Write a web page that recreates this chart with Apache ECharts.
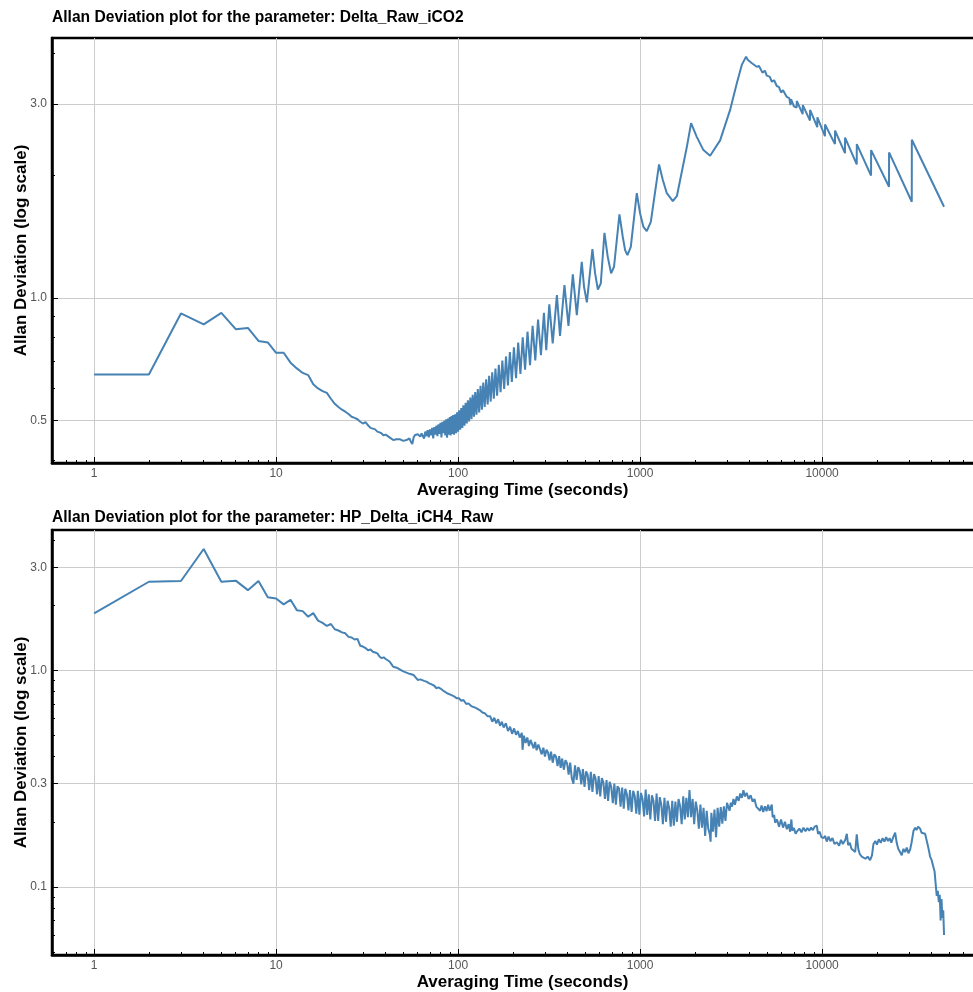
<!DOCTYPE html>
<html>
<head>
<meta charset="utf-8">
<title>Allan Deviation</title>
<script src="https://cdn.jsdelivr.net/npm/echarts@6/dist/echarts.min.js"></script>
<style>
  html, body { margin: 0; padding: 0; background: #fff; }
  #chart { width: 973px; height: 992px; }
</style>
</head>
<body>
<div id="chart"></div>
<script>
// Delta_Raw_iCO2
var co2Tau = [1, 2, 3, 4, 5, 6, 7, 8, 9, 10, 11, 12, 13, 14, 15, 16, 17, 18, 19, 20,
  21, 22, 23, 24, 25, 26, 27, 28, 29, 30, 31, 32, 33, 34, 35, 36, 37, 38, 39, 40,
  41, 42, 43, 44, 45, 46, 47, 48, 49, 50, 51, 52, 53, 54, 55, 56, 57, 58, 59, 60,
  62, 63, 64, 65, 66, 67, 68, 69, 70, 71, 72, 73, 74, 75, 76, 77, 78, 79, 80,
  81, 82, 83, 84, 85, 86, 87, 88, 89, 90, 91, 92, 93, 94, 95,
  96.3, 97.5, 98.7, 100, 101.3, 102.7, 104.1, 105.5, 106.9, 108.5, 110, 111.6, 113.2, 114.9,
  116.7, 118.5, 120.3, 122.2, 124.2, 126.2, 128.3, 130.5, 132.8, 135.1, 137.5, 140, 142.6,
  145.3, 148.1, 151, 154, 157.1, 160.4, 163.8, 167.4, 171.1, 175, 179.1, 183.3, 187.8,
  192.5, 197.4, 202.6, 208.1, 213.9, 220, 226.5, 233.3, 240.6, 248.4, 256.7, 265.5,
  275, 285.2, 296.2, 305, 317, 331, 349, 363, 384, 404, 427, 449, 478, 492, 510, 547, 566, 586, 608,
  637, 664, 693, 719, 770, 803, 827, 852, 889, 959, 1000, 1043, 1088, 1145, 1271, 1333, 1402, 1513,
  1592, 1660, 1806, 1906, 2048, 2228, 2425, 2752, 3123, 3399, 3620, 3822, 3900, 3950, 4100, 4200, 4375, 4500,
  4700, 4850, 4965, 5150, 5300, 5450, 5636, 5800, 5950, 6100, 6398, 6600, 6700, 6750,
  7000, 7250, 7261, 7820, 7834, 8580, 8590, 9410, 9420, 10370, 10380, 11770, 11780,
  13360, 13370, 15500, 15510, 18580, 18590, 23320, 23330, 31100, 31120, 46770];
var co2Dev = [0.649, 0.649, 0.917, 0.862, 0.920, 0.839, 0.845, 0.785, 0.778, 0.734,
  0.734, 0.694, 0.672, 0.655, 0.647, 0.614, 0.600, 0.591, 0.585, 0.566,
  0.550, 0.540, 0.532, 0.526, 0.519, 0.511, 0.508, 0.504, 0.497, 0.492,
  0.496, 0.487, 0.480, 0.478, 0.476, 0.470, 0.468, 0.465, 0.460, 0.462,
  0.458, 0.455, 0.452, 0.448, 0.452, 0.450, 0.447, 0.450, 0.448, 0.446,
  0.449, 0.448, 0.446, 0.452, 0.444, 0.438, 0.455, 0.461, 0.458, 0.463,
  0.457, 0.465, 0.463, 0.452, 0.470, 0.458, 0.474, 0.455, 0.476, 0.460,
  0.480, 0.452, 0.482, 0.462, 0.486, 0.458, 0.490, 0.464, 0.494,
  0.455, 0.497, 0.466, 0.500, 0.460, 0.504, 0.454, 0.506, 0.462, 0.510,
  0.460, 0.513, 0.464, 0.516, 0.462,
  0.518, 0.466, 0.524, 0.470, 0.530, 0.475, 0.537, 0.480, 0.545, 0.486, 0.553, 0.492, 0.561, 0.498,
  0.570, 0.504, 0.579, 0.511, 0.588, 0.517, 0.598, 0.524, 0.609, 0.532, 0.620, 0.540, 0.632,
  0.548, 0.644, 0.557, 0.657, 0.566, 0.671, 0.576, 0.686, 0.587, 0.702, 0.598, 0.719, 0.610,
  0.737, 0.622, 0.757, 0.636, 0.778, 0.651, 0.801, 0.667, 0.827, 0.684, 0.855, 0.703,
  0.886, 0.724, 0.920, 0.745, 0.965, 0.774, 1.017, 0.808, 1.076, 0.855, 1.144, 0.908, 1.228, 1.066, 0.976, 1.32, 1.15, 1.05, 1.086,
  1.447, 1.263, 1.15, 1.194, 1.606, 1.415, 1.312, 1.276, 1.337, 1.81, 1.615, 1.496, 1.46, 1.54, 2.13, 1.95, 1.81, 1.73,
  1.78, 1.95, 2.35, 2.69, 2.49, 2.31, 2.237, 2.44, 2.90, 3.37, 3.74, 3.92, 3.85, 3.88, 3.78, 3.80, 3.70, 3.72,
  3.58, 3.62, 3.52, 3.50, 3.40, 3.43, 3.32, 3.30, 3.20, 3.24, 3.12, 3.10, 2.98, 3.08,
  2.96, 2.94, 3.05, 2.83, 2.98, 2.73, 2.90, 2.63, 2.78, 2.50, 2.67, 2.39, 2.58,
  2.27, 2.48, 2.13, 2.39, 2.00, 2.31, 1.877, 2.28, 1.725, 2.45, 1.677];

// HP_Delta_iCH4_Raw
var ch4Tau = [1, 2, 3, 4, 5, 6, 7, 8, 9, 10, 11, 12, 13, 14, 15, 16, 17, 18, 19, 20,
  21, 22, 23, 24, 25, 26, 27, 28, 29, 30, 31, 32, 33, 34, 35, 36, 37, 38, 39, 40,
  41, 42, 43, 44, 45, 46, 47, 48, 50, 52, 54, 55, 57, 58, 60, 62, 63, 65, 67, 69,
  70, 72, 74, 76, 78, 80, 82, 84, 87, 89, 92, 95, 98, 101, 104, 107, 111, 114, 118,
  121, 125, 128, 132, 136, 140, 145,
  150, 154, 158, 162, 166, 170, 174, 178, 183, 188, 193, 198, 203, 208, 213, 218, 224, 226,
  230, 235, 240, 245, 250, 255, 260, 265, 270, 276, 282, 288, 294, 300, 306, 312, 318, 324,
  331, 338, 345, 352, 359, 366, 373, 381, 389, 397,
  405, 413, 421, 430, 439, 448, 457, 466, 475, 485,
  495, 505, 515, 525, 536, 547, 558, 569, 580, 592,
  604, 616, 628, 641, 654, 667, 680, 694, 708, 722,
  736, 751, 766, 781, 797, 813, 829, 846, 863, 880,
  898, 916, 934, 953, 972, 991, 1011, 1031, 1052, 1073,
  1094, 1116, 1138, 1161, 1184, 1208, 1232, 1257, 1282, 1308,
  1334, 1361, 1388, 1416, 1444, 1473, 1502, 1532, 1563, 1594,
  1626, 1659, 1692, 1726, 1760, 1795, 1831, 1868, 1905, 1943,
  1982, 2022, 2062, 2103, 2145, 2188, 2232, 2277, 2322, 2368,
  2415, 2440, 2463, 2512, 2563, 2614, 2666, 2720, 2774, 2830,
  2886, 2944, 3003,
  3100, 3150, 3200, 3258, 3320, 3400, 3480, 3550, 3620, 3698, 3760, 3850, 3950, 4050,
  4150, 4250, 4350, 4450, 4563, 4650, 4750, 4850, 4950, 5050, 5150, 5290, 5350, 5450,
  5520, 5650, 5800, 5950, 6100, 6250, 6400, 6550, 6670, 6780, 6850, 7000, 7150, 7261,
  7500, 7700, 7900, 8100, 8300, 8500, 8700, 8900, 9100, 9350, 9500, 9700, 9900, 10170,
  10400, 10600, 10850, 11100, 11400, 11700, 12050, 12400, 12700, 13000, 13400, 13670,
  13900, 14200, 14500, 14870, 15200, 15500, 15800, 16100, 16520, 16900, 17300, 17800,
  18350, 18800, 19150, 19600, 20000, 20500, 21000, 21500, 22000, 22500, 23000, 23500,
  24000, 24600, 25200, 25700, 26200, 26800, 27400, 28000, 28600, 29200, 29800, 30460,
  31000, 31800, 32470, 33000, 33700, 34540, 35200, 35800, 36800, 37800, 38600, 39200,
  40000, 40850, 41500, 42000, 42650, 43200, 43800, 44300, 44800, 45300, 45800, 46300, 46770];
var ch4Dev = [1.837, 2.57, 2.59, 3.64, 2.57, 2.60, 2.35, 2.59, 2.18, 2.15, 2.02, 2.12, 1.90, 1.88, 1.77, 1.84, 1.70, 1.66, 1.606, 1.64,
  1.55, 1.53, 1.50, 1.485, 1.43, 1.42, 1.39, 1.40, 1.30, 1.29, 1.27, 1.24, 1.25, 1.22, 1.21, 1.20, 1.16, 1.14, 1.15, 1.13,
  1.12, 1.10, 1.07, 1.04, 1.06, 1.03, 1.04, 1.01, 0.99, 0.977, 0.965, 0.975, 0.953, 0.94, 0.904, 0.91, 0.92, 0.895, 0.888, 0.875,
  0.88, 0.86, 0.85, 0.828, 0.835, 0.825, 0.81, 0.80, 0.785, 0.79, 0.77, 0.76, 0.745, 0.745, 0.725, 0.73, 0.70, 0.705, 0.685,
  0.68, 0.672, 0.66, 0.655, 0.64, 0.635, 0.615,
  0.615, 0.58, 0.605, 0.57, 0.595, 0.555, 0.58, 0.545, 0.57, 0.525, 0.55, 0.51, 0.54, 0.505, 0.525, 0.49, 0.515, 0.43,
  0.50, 0.462, 0.49, 0.448, 0.478, 0.47, 0.437, 0.468, 0.428, 0.455, 0.447, 0.41, 0.44, 0.40, 0.43, 0.418, 0.385, 0.422,
  0.375, 0.41, 0.40, 0.362, 0.402, 0.355, 0.392, 0.348, 0.385, 0.372,
  0.33, 0.375, 0.32, 0.30, 0.365, 0.312, 0.358, 0.345, 0.298, 0.35,
  0.29, 0.342, 0.33, 0.28, 0.34, 0.275, 0.332, 0.318, 0.268, 0.325,
  0.262, 0.318, 0.305, 0.255, 0.312, 0.25, 0.306, 0.29, 0.244, 0.30,
  0.24, 0.292, 0.285, 0.235, 0.288, 0.23, 0.284, 0.268, 0.226, 0.28,
  0.222, 0.278, 0.264, 0.218, 0.278, 0.216, 0.272, 0.255, 0.212, 0.282,
  0.215, 0.268, 0.205, 0.265, 0.25, 0.202, 0.27, 0.202, 0.26, 0.24,
  0.195, 0.258, 0.2, 0.25, 0.232, 0.19, 0.25, 0.192, 0.248, 0.2,
  0.255, 0.236, 0.195, 0.262, 0.205, 0.258, 0.21, 0.28, 0.21, 0.255,
  0.195, 0.248, 0.226, 0.186, 0.24, 0.188, 0.232, 0.172, 0.225, 0.186,
  0.175, 0.162, 0.22, 0.18, 0.228, 0.17, 0.232, 0.19, 0.234, 0.196,
  0.236, 0.202, 0.245,
  0.225, 0.245, 0.235, 0.255, 0.24, 0.262, 0.25, 0.27, 0.258, 0.28, 0.262, 0.272, 0.255, 0.265,
  0.248, 0.255, 0.235, 0.24, 0.225, 0.238, 0.222, 0.236, 0.224, 0.24, 0.225, 0.24, 0.21, 0.215,
  0.198, 0.205, 0.19, 0.205, 0.188, 0.20, 0.185, 0.195, 0.18, 0.205, 0.182, 0.187, 0.176, 0.18,
  0.186, 0.179, 0.188, 0.181, 0.187, 0.182, 0.188, 0.183, 0.19, 0.192, 0.176, 0.18, 0.17, 0.168,
  0.172, 0.162, 0.171, 0.163, 0.168, 0.158, 0.161, 0.155, 0.165, 0.158, 0.165, 0.176,
  0.156, 0.16, 0.15, 0.152, 0.145, 0.175, 0.15, 0.142, 0.138, 0.14, 0.135, 0.138,
  0.133, 0.14, 0.158, 0.163, 0.157, 0.166, 0.16, 0.168, 0.162, 0.17, 0.163, 0.168,
  0.16, 0.17, 0.178, 0.16, 0.15, 0.145, 0.14, 0.15, 0.145, 0.152, 0.143, 0.149,
  0.16, 0.182, 0.188, 0.183, 0.19, 0.186, 0.178, 0.18, 0.176, 0.16, 0.148, 0.138,
  0.133, 0.124, 0.118, 0.105, 0.091, 0.096, 0.085, 0.092, 0.07, 0.088, 0.072, 0.078, 0.060];

var xTicks = [1, 10, 100, 1000, 10000];
var xMinorTicks = [0.6, 0.7, 0.8, 0.9, 2, 3, 4, 5, 6, 7, 8, 9, 20, 30, 40, 50, 60, 70, 80, 90,
  200, 300, 400, 500, 600, 700, 800, 900, 2000, 3000, 4000, 5000, 6000, 7000, 8000, 9000,
  20000, 30000, 40000, 50000, 60000, 70000, 80000];
var co2YTicks = [0.5, 1.0, 3.0];
var co2YMinor = [0.4, 0.6, 0.7, 0.8, 0.9, 2, 4];
var ch4YTicks = [0.1, 0.3, 1.0, 3.0];
var ch4YMinor = [0.05, 0.06, 0.07, 0.08, 0.09, 0.2, 0.4, 0.5, 0.6, 0.7, 0.8, 0.9, 2, 4];

var titles = ['Allan Deviation plot for the parameter: Delta_Raw_iCO2',
  'Allan Deviation plot for the parameter: HP_Delta_iCH4_Raw'];

var FONT = '"Liberation Sans", Arial, sans-serif';
var LINE = '#4682b4';

function pairs(xs, ys) {
  return xs.map(function (x, i) { return [x, ys[i]]; });
}

function xAxisMain(gridIndex) {
  return {
    type: 'log', gridIndex: gridIndex, min: 0.587, max: 86900,
    name: 'Averaging Time (seconds)', nameLocation: 'middle', nameGap: 19, nameMoveOverlap: false,
    nameTextStyle: { fontFamily: FONT, fontSize: 17, fontWeight: 'bold', color: '#000' },
    axisLine: { show: true, lineStyle: { color: '#000', width: 2.5 } },
    axisTick: { inside: true, length: 6, customValues: xTicks, lineStyle: { color: '#000', width: 1 } },
    axisLabel: {
      customValues: xTicks, margin: 5, fontFamily: FONT, fontSize: 12, color: '#555',
      formatter: function (v) { return String(Math.round(v)); }
    },
    splitLine: { show: true, lineStyle: { color: '#cccccc', width: 1 } }
  };
}

function xAxisMinor(gridIndex) {
  return {
    type: 'log', gridIndex: gridIndex, min: 0.587, max: 86900, position: 'bottom',
    axisLine: { show: false },
    axisTick: { inside: true, length: 3, customValues: xMinorTicks, lineStyle: { color: '#000', width: 1 } },
    axisLabel: { show: false },
    splitLine: { show: false }
  };
}

function yAxisMain(gridIndex, min, max, ticks) {
  return {
    type: 'log', gridIndex: gridIndex, min: min, max: max, position: 'left',
    name: 'Allan Deviation (log scale)', nameLocation: 'middle', nameGap: 22, nameMoveOverlap: false,
    nameTextStyle: { fontFamily: FONT, fontSize: 17, fontWeight: 'bold', color: '#000' },
    axisLine: { show: true, lineStyle: { color: '#000', width: 2.5 } },
    axisTick: { inside: true, length: 6, customValues: ticks, lineStyle: { color: '#000', width: 1 } },
    axisLabel: {
      customValues: ticks, margin: 5, fontFamily: FONT, fontSize: 12, color: '#555',
      formatter: function (v) { return v.toFixed(1); }
    },
    splitLine: { show: true, lineStyle: { color: '#cccccc', width: 1 } }
  };
}

function yAxisMinor(gridIndex, min, max, ticks) {
  return {
    type: 'log', gridIndex: gridIndex, min: min, max: max, position: 'left',
    axisLine: { show: false },
    axisTick: { inside: true, length: 3, customValues: ticks, lineStyle: { color: '#000', width: 1 } },
    axisLabel: { show: false },
    splitLine: { show: false }
  };
}

var chart = echarts.init(document.getElementById('chart'), null, { renderer: 'canvas' });

chart.setOption({
  animation: false,
  backgroundColor: '#fff',
  title: [
    { text: titles[0], left: 52, top: 10, padding: 0, textStyle: { fontFamily: FONT, fontSize: 15.6, fontWeight: 'bold', color: '#000' } },
    { text: titles[1], left: 52, top: 510, padding: 0, textStyle: { fontFamily: FONT, fontSize: 15.6, fontWeight: 'bold', color: '#000' } }
  ],
  grid: [
    { left: 52, top: 38, right: -20, height: 425, outerBoundsMode: 'none', show: true, borderColor: '#000', borderWidth: 2.5, backgroundColor: 'transparent' },
    { left: 52, top: 530, right: -20, height: 425, outerBoundsMode: 'none', show: true, borderColor: '#000', borderWidth: 2.5, backgroundColor: 'transparent' }
  ],
  xAxis: [xAxisMain(0), xAxisMain(1), xAxisMinor(0), xAxisMinor(1)],
  yAxis: [
    yAxisMain(0, 0.3935, 4.355, co2YTicks),
    yAxisMain(1, 0.0485, 4.456, ch4YTicks),
    yAxisMinor(0, 0.3935, 4.355, co2YMinor),
    yAxisMinor(1, 0.0485, 4.456, ch4YMinor)
  ],
  series: [
    {
      type: 'line', xAxisIndex: 0, yAxisIndex: 0, data: pairs(co2Tau, co2Dev),
      showSymbol: false, lineStyle: { color: LINE, width: 2 }, itemStyle: { color: LINE }
    },
    {
      type: 'line', xAxisIndex: 1, yAxisIndex: 1, data: pairs(ch4Tau, ch4Dev),
      showSymbol: false, lineStyle: { color: LINE, width: 2 }, itemStyle: { color: LINE }
    }
  ]
});
</script>
</body>
</html>
